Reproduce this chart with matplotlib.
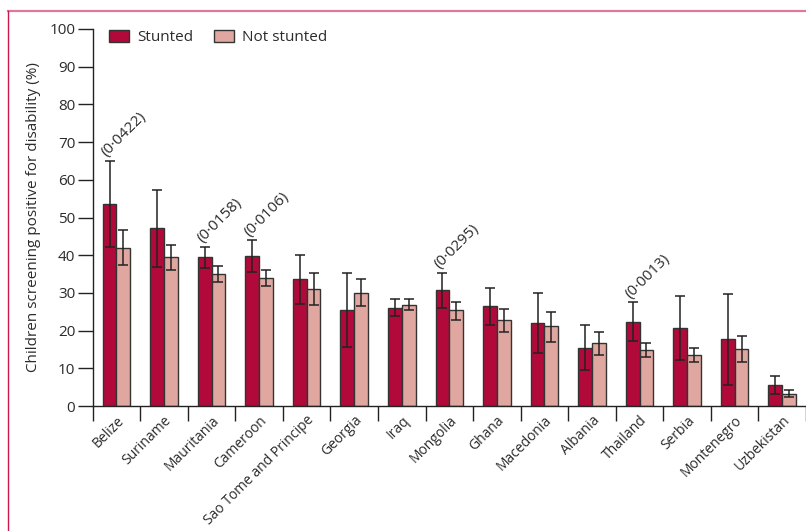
import matplotlib.pyplot as plt
import numpy as np
from matplotlib.lines import Line2D

countries = ["Belize", "Suriname", "Mauritania", "Cameroon", "Sao Tome and Principe",
             "Georgia", "Iraq", "Mongolia", "Ghana", "Macedonia", "Albania",
             "Thailand", "Serbia", "Montenegro", "Uzbekistan"]
stunted = [53.6, 47.3, 39.4, 39.8, 33.7, 25.4, 26.0, 30.8, 26.5, 22.1, 15.5, 22.4, 20.7, 17.8, 5.6]
stunted_lo = [42.3, 37.0, 36.5, 35.6, 27.0, 15.6, 23.9, 26.1, 21.6, 14.1, 9.5, 17.3, 12.2, 5.6, 3.3]
stunted_hi = [65.0, 57.3, 42.3, 43.9, 40.0, 35.2, 28.4, 35.3, 31.4, 30.0, 21.5, 27.5, 29.2, 29.8, 8.0]
not_stunted = [42.0, 39.4, 35.1, 33.9, 31.0, 30.1, 26.9, 25.4, 22.7, 21.1, 16.6, 14.8, 13.6, 15.1, 3.3]
not_stunted_lo = [37.5, 36.1, 32.9, 31.8, 26.8, 26.5, 25.4, 22.8, 19.6, 17.0, 13.6, 12.9, 11.6, 11.7, 2.5]
not_stunted_hi = [46.7, 42.8, 37.1, 36.2, 35.2, 33.6, 28.3, 27.7, 25.8, 25.0, 19.5, 16.8, 15.5, 18.6, 4.3]
p_values = {"Belize": "(0·0422)", "Mauritania": "(0·0158)", "Cameroon": "(0·0106)",
            "Mongolia": "(0·0295)", "Thailand": "(0·0013)"}

C_STUNT = "#b10a3a"
C_NOT = "#e0a7a0"
EDGE = "#333333"
TXT = "#2b2b2b"

plt.rcParams["font.family"] = ["Open Sans", "DejaVu Sans"]

fig = plt.figure(figsize=(8.06, 5.31), dpi=100)
ax = fig.add_axes([92.7 / 806, 125 / 531, 1 - 92.7 / 806, 377 / 531])

x = np.arange(len(countries))
w = 0.29
s = np.array(stunted)
n = np.array(not_stunted)
s_err = [s - np.array(stunted_lo), np.array(stunted_hi) - s]
n_err = [n - np.array(not_stunted_lo), np.array(not_stunted_hi) - n]

ekw = dict(ecolor="#222222", elinewidth=1.1, capsize=3.5, capthick=1.1)
ax.bar(x - w / 2, s, w, color=C_STUNT, edgecolor=EDGE, linewidth=1.0, label="Stunted",
       yerr=s_err, error_kw=ekw)
ax.bar(x + w / 2, n, w, color=C_NOT, edgecolor=EDGE, linewidth=1.0, label="Not stunted",
       yerr=n_err, error_kw=ekw)

for i, c in enumerate(countries):
    if c in p_values:
        ax.text(i - w / 2 + 0.0, stunted_hi[i] + 0.2, p_values[c], rotation=45,
                rotation_mode="anchor", ha="left", va="bottom", fontsize=11, color=TXT)

ax.set_xlim(-0.5, 14.5)
ax.set_ylim(0, 100)
ax.set_yticks(np.arange(0, 101, 10))
ax.set_xticks(x)
ax.set_xticklabels(countries, rotation=45, ha="right", rotation_mode="anchor", fontsize=10, color=TXT)
ax.set_xticks(np.arange(-0.5, 15, 1), minor=True)
ax.tick_params(axis="x", which="major", length=0, pad=5)
ax.tick_params(axis="x", which="minor", length=11, width=1.0, color="#222222")
ax.tick_params(axis="y", length=11, width=1.0, color="#222222", labelsize=11, labelcolor=TXT, pad=1.5)
for side in ["top", "right"]:
    ax.spines[side].set_visible(False)
for side in ["left", "bottom"]:
    ax.spines[side].set_linewidth(1.0)
    ax.spines[side].set_color("#222222")
ax.set_ylabel("Children screening positive for disability (%)", fontsize=11, color=TXT, labelpad=6)

ax.legend(loc="upper left", bbox_to_anchor=(0.004, 1.035), ncol=2, frameon=False, fontsize=11,
          handlelength=1.3, handleheight=0.9, columnspacing=1.4, handletextpad=0.5,
          labelcolor=TXT)

# page frame lines
fig.add_artist(Line2D([8 / 806, 1], [1 - 10.5 / 531, 1 - 10.5 / 531], color="#e07898", lw=1.6,
                      transform=fig.transFigure))
fig.add_artist(Line2D([8 / 806, 8 / 806], [0, 1 - 10.5 / 531], color="#c8184c", lw=1.0,
                      transform=fig.transFigure))

fig.savefig("out.png", dpi=100)
